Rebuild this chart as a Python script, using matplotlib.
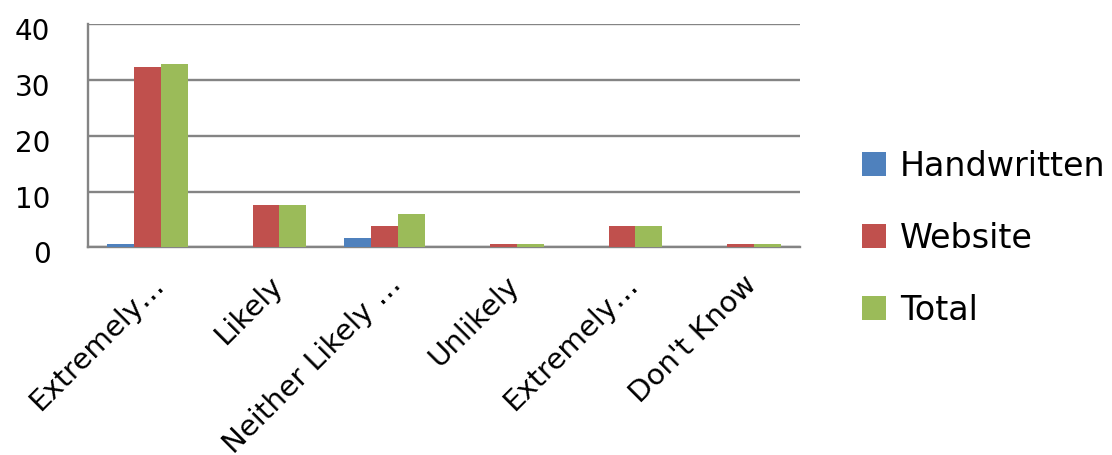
import matplotlib.pyplot as plt
import matplotlib.transforms as mtransforms
import numpy as np

categories = ["Extremely…", "Likely", "Neither Likely …", "Unlikely", "Extremely…", "Don't Know"]
handwritten = [0.65, 0, 1.7, 0, 0, 0]
website = [32.3, 7.6, 3.9, 0.65, 3.9, 0.65]
total = [32.9, 7.6, 6.0, 0.65, 3.9, 0.65]

series = [("Handwritten", handwritten, "#4F81BD"),
          ("Website", website, "#C0504D"),
          ("Total", total, "#9BBB59")]

fig = plt.figure(figsize=(11.12, 4.55), dpi=100)
ax = fig.add_axes([88 / 1112, 1 - 247.3 / 455, (800 - 88) / 1112, (247.3 - 24.3) / 455])

x = np.arange(len(categories))
w = 0.227
for i, (name, vals, col) in enumerate(series):
    ax.bar(x + (i - 1) * w, vals, width=w, color=col, label=name, zorder=3)

ax.set_xlim(-0.5, len(categories) - 0.5)
ax.set_ylim(0, 40)
ax.set_yticks([0, 10, 20, 30, 40])
ax.grid(axis="y", color="#848484", linewidth=1.7, zorder=0)
ax.set_axisbelow(True)
for s in ["top", "right"]:
    ax.spines[s].set_visible(False)
for s in ["left", "bottom"]:
    ax.spines[s].set_color("#848484")
    ax.spines[s].set_linewidth(1.7)

ax.tick_params(axis="y", length=0, pad=27, labelsize=20)
ax.tick_params(axis="x", length=0, pad=24, labelsize=21)
ax.set_xticks(x)
ax.set_xticklabels(categories, rotation=45, ha="right", rotation_mode="anchor", va="center")

# nudge labels a little
dy = mtransforms.ScaledTranslation(0, -5 / 100, fig.dpi_scale_trans)
for lab in ax.get_yticklabels():
    lab.set_transform(lab.get_transform() + dy)
dx = mtransforms.ScaledTranslation(12 / 100, 0, fig.dpi_scale_trans)
for lab in ax.get_xticklabels():
    lab.set_transform(lab.get_transform() + dx)

fig.legend(loc="center left", bbox_to_anchor=(862 / 1112, 1 - 238.5 / 455),
           frameon=False, fontsize=24, handlelength=0.72, handleheight=0.72,
           handletextpad=0.42, labelspacing=1.17, borderpad=0, borderaxespad=0)

fig.savefig("out.png", dpi=100)
